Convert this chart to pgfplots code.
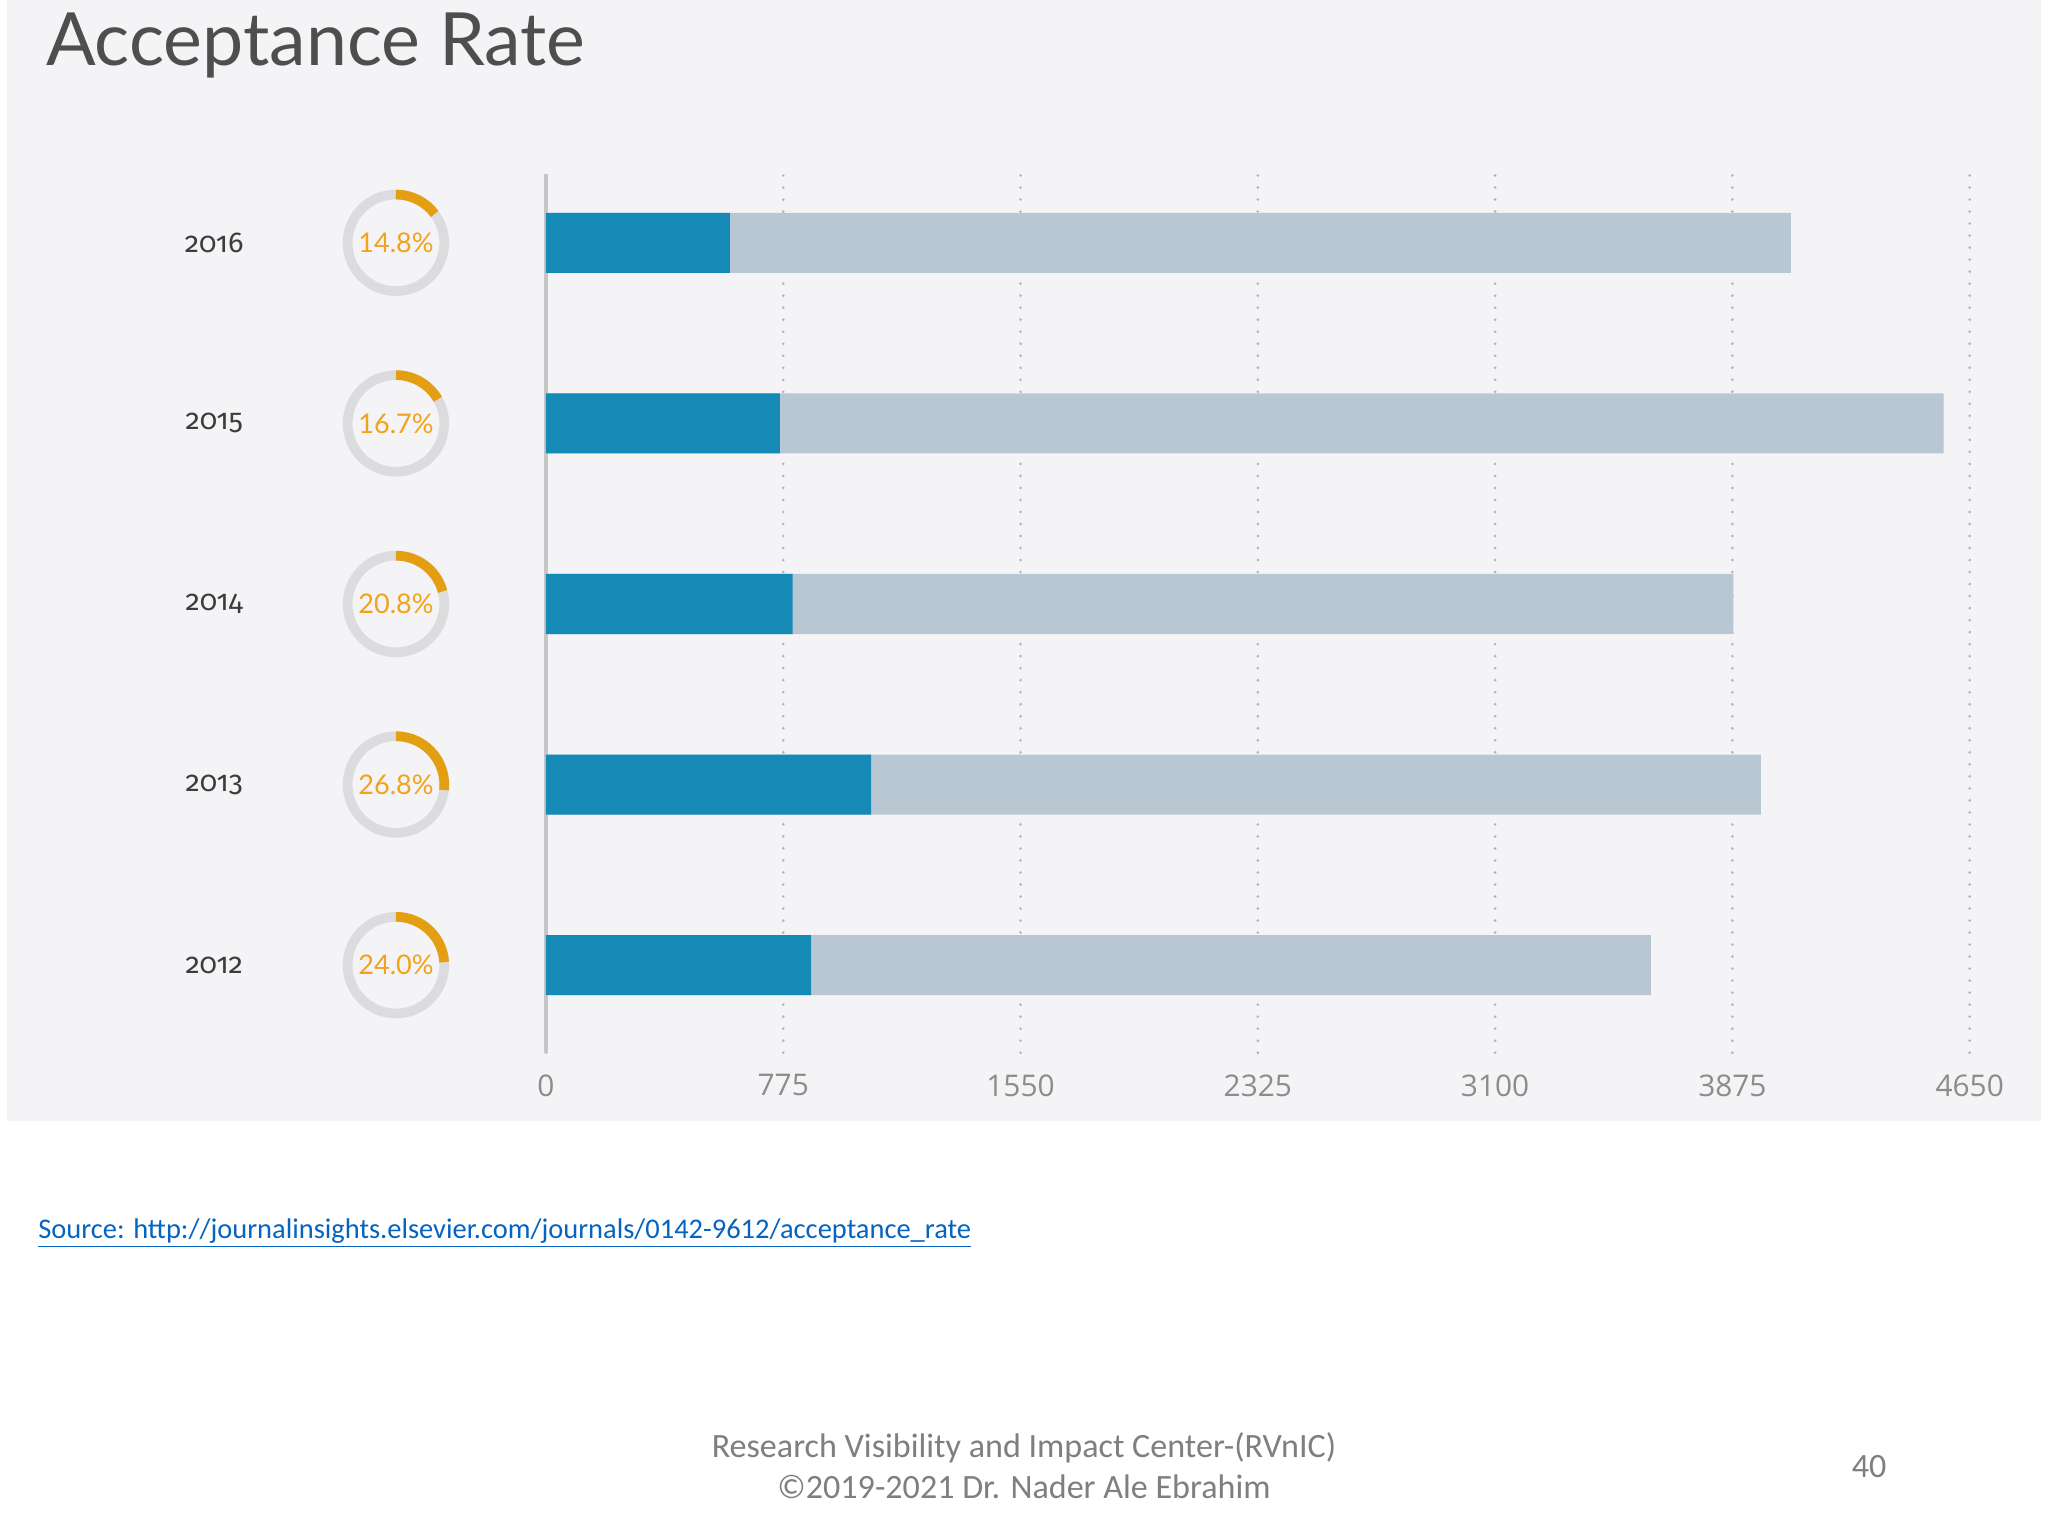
\documentclass[border=0pt]{standalone}
\usepackage{pgfplots}
\usepackage{pgfplotstable}
\pgfplotsset{compat=1.18}
\usepackage{fontspec}
\setmainfont{Lato}
\newfontfamily\yearfont[Numbers=OldStyle]{Fira Sans}
\newfontfamily\tickfont{Open Sans}
\newfontfamily\calibri{Carlito}

\definecolor{panel}{HTML}{F4F4F6}
\definecolor{barblue}{HTML}{158AB6}
\definecolor{bargray}{HTML}{B9C7D2}
\definecolor{ringgray}{HTML}{DCDCDE}
\definecolor{ringorange}{HTML}{E49E12}
\definecolor{pcttext}{HTML}{F2A31B}
\definecolor{gridgray}{HTML}{B4B4BA}
\definecolor{axisgray}{HTML}{C6C6C9}
\definecolor{titlegray}{HTML}{4E4E4E}
\definecolor{yeargray}{HTML}{3C3C3C}
\definecolor{tickgray}{HTML}{8C8C8C}
\definecolor{linkblue}{HTML}{0563C1}
\definecolor{footgray}{HTML}{7F7F7F}

\pgfdeclareplotmark{nothing}{}

% submitted = whole bar, accepted = blue part
\pgfplotstableread{
idx year accepted submitted rate ringx
0 2012 866 3609 24.0 -490
1 2013 1062 3968 26.8 -490
2 2014 806 3878 20.8 -490
3 2015 764 4565 16.7 -490
4 2016 601 4066 14.8 -490
}\datatable

\begin{document}
\begin{tikzpicture}[x=0.2mm, y=0.2mm]
\useasboundingbox (0,0) rectangle (1568,1176);
\fill[white] (0,0) rectangle (1568,1176);
\fill[panel] (5,318) rectangle (1563,1176);

\node[anchor=base west, inner sep=0, text=titlegray, font=\fontsize{32}{36}\selectfont]
  at (35,1126) {Acceptance Rate};

\begin{axis}[
  at={(83.6mm,74mm)}, anchor=south west,
  width=218mm, height=134.6mm, scale only axis,
  clip=false,
  xmin=0, xmax=4650, ymin=-0.485, ymax=4.383,
  axis x line*=bottom, axis y line*=left,
  x axis line style={draw=none},
  y axis line style={axisgray, line width=0.57mm, -},
  xtick={0,775,1550,2325,3100,3875,4650},
  xticklabels={0,775,1550,2325,3100,3875,4650},
  ytick={0,1,2,3,4},
  yticklabels={2012,2013,2014,2015,2016},
  major tick length=0pt,
  xmajorgrids,
  grid style={gridgray, line width=0.45mm, line cap=round, dash pattern=on 0pt off 1.84mm},
  xticklabel style={text=tickgray, font=\tickfont\fontsize{13}{13}\selectfont, yshift=-2.1mm},
  yticklabel style={anchor=center, xshift=-50.8mm, text=yeargray, font=\yearfont\fontsize{12.5}{13}\selectfont},
]
\addplot[xbar, bar width=9.2mm, bar shift=0pt, fill=bargray, draw=none]
  table[x=submitted, y=idx] {\datatable};
\addplot[xbar, bar width=9.2mm, bar shift=0pt, fill=barblue, draw=none]
  table[x=accepted, y=idx] {\datatable};
\addplot[scatter, only marks, mark=nothing,
  point meta=explicit symbolic,
  scatter/@pre marker code/.code={%
    \edef\rate{\pgfplotspointmeta}%
    \pgfmathsetmacro\endang{90-3.6*\rate}%
    \pgfsetlinewidth{1.48mm}%
    \pgfsetbuttcap
    \pgfsetstrokecolor{ringgray}%
    \pgfpathcircle{\pgfpointorigin}{7.4mm}%
    \pgfusepath{stroke}%
    \pgfsetstrokecolor{ringorange}%
    \pgfpathmoveto{\pgfpoint{0pt}{7.4mm}}%
    \pgfpatharc{90}{\endang}{7.4mm}%
    \pgfusepath{stroke}%
    \pgftext{\color{pcttext}\fontsize{11.8}{12}\selectfont\rate\%}%
  },
  scatter/@post marker code/.code={},
] table[x=ringx, y=idx, meta=rate] {\datatable};
\end{axis}

\node[anchor=base west, inner sep=0, text=linkblue, font=\calibri\fontsize{12.4}{14}\selectfont]
  at (29,228) {\underline{Source: http://journalinsights.elsevier.com/journals/0142-9612/acceptance\_rate}};
\node[anchor=base, inner sep=0, text=footgray, font=\calibri\fontsize{14.85}{17}\selectfont]
  at (784,60) {Research Visibility and Impact Center-(RVnIC)};
\node[anchor=base, inner sep=0, text=footgray, font=\calibri\fontsize{14.85}{17}\selectfont]
  at (784,29) {©2019-2021 Dr. Nader Ale Ebrahim};
\node[anchor=base, inner sep=0, text=footgray, font=\calibri\fontsize{14.85}{17}\selectfont]
  at (1431,45) {40};
\end{tikzpicture}
\end{document}
